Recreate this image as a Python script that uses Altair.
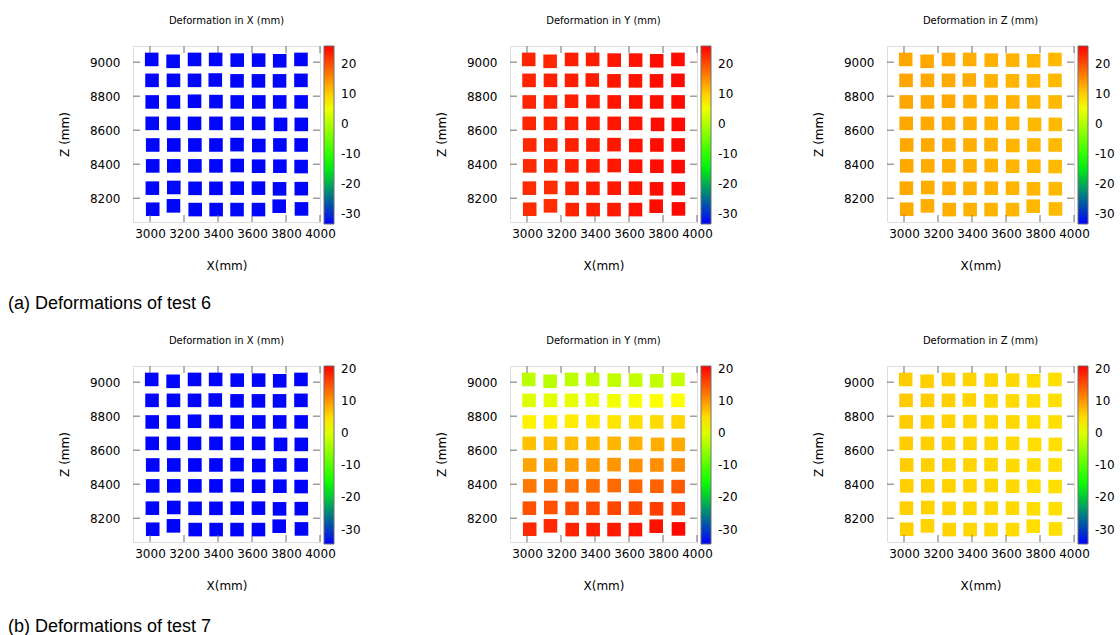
import altair as alt
import pandas as pd

# ---- labels -------------------------------------------------------------
PANEL_TITLES = ["Deformation in X (mm)", "Deformation in Y (mm)", "Deformation in Z (mm)"]
CAPTIONS = ["(a) Deformations of test 6", "(b) Deformations of test 7"]
X_TITLE = "X(mm)"
Z_TITLE = "Z (mm)"

# ---- axes ---------------------------------------------------------------
X_TICKS = [3000, 3200, 3400, 3600, 3800, 4000]
Z_TICKS = [8200, 8400, 8600, 8800, 9000]
CBAR_TICKS = [20, 10, 0, -10, -20, -30]
X_DOMAIN = [2900, 4000]
Z_DOMAIN = [8060, 9095]

# colour-bar limits for each test (min, max)
CBAR_LIMITS = [[-33.3, 26.0], [-34.5, 21.0]]
PALETTE = ["#0000ff", "#00ff00", "#ffff00", "#ff0000"]

# ---- measurement grid: target positions (8 rows top->bottom, 8 columns) --
X_MM = [
    [3010, 3136, 3262, 3386, 3513, 3639, 3763, 3888],
    [3012, 3138, 3262, 3384, 3512, 3638, 3762, 3888],
    [3013, 3138, 3262, 3388, 3513, 3640, 3763, 3889],
    [3013, 3138, 3262, 3388, 3513, 3639, 3768, 3890],
    [3016, 3140, 3264, 3388, 3512, 3640, 3764, 3889],
    [3016, 3140, 3264, 3388, 3513, 3639, 3764, 3889],
    [3014, 3140, 3265, 3388, 3513, 3638, 3762, 3890],
    [3016, 3138, 3266, 3389, 3512, 3638, 3760, 3891],
]
Z_MM = [
    [9016, 9005, 9016, 9016, 9012, 9012, 9008, 9016],
    [8893, 8893, 8893, 8895, 8890, 8890, 8890, 8893],
    [8766, 8766, 8770, 8768, 8766, 8766, 8766, 8766],
    [8640, 8640, 8640, 8640, 8640, 8640, 8634, 8634],
    [8513, 8513, 8513, 8513, 8515, 8510, 8513, 8513],
    [8390, 8390, 8390, 8390, 8392, 8388, 8388, 8386],
    [8259, 8263, 8258, 8258, 8259, 8259, 8255, 8256],
    [8135, 8155, 8133, 8133, 8133, 8133, 8153, 8137],
]

# ---- test 6 deformations (mm) -------------------------------------------
T6_DX = [
    [-32.9, -32.7, -32.8, -32.9, -32.7, -32.8, -32.9, -33.0],
    [-32.8, -32.9, -32.7, -32.8, -32.9, -32.8, -32.7, -32.9],
    [-32.9, -32.8, -32.9, -32.7, -32.8, -32.9, -32.8, -32.8],
    [-32.7, -32.8, -32.9, -32.8, -32.7, -32.8, -32.9, -32.8],
    [-32.8, -32.9, -32.8, -32.9, -32.8, -32.7, -32.8, -32.9],
    [-32.9, -32.8, -32.7, -32.8, -32.9, -32.8, -32.8, -32.7],
    [-32.8, -32.7, -32.8, -32.9, -32.8, -32.9, -32.7, -32.8],
    [-32.9, -32.8, -32.9, -32.8, -32.7, -32.8, -32.9, -32.8],
]
T6_DY = [
    [23.2, 23.0, 23.6, 23.8, 24.3, 24.6, 25.0, 25.1],
    [23.3, 23.4, 23.7, 23.9, 24.2, 24.6, 24.9, 25.2],
    [23.1, 23.4, 23.6, 24.0, 24.4, 24.7, 25.0, 25.2],
    [23.0, 23.3, 23.6, 24.0, 24.3, 24.6, 25.1, 25.3],
    [22.9, 23.2, 23.5, 23.9, 24.2, 24.6, 24.9, 25.2],
    [22.8, 23.2, 23.5, 23.8, 24.2, 24.6, 24.9, 25.3],
    [22.7, 22.6, 23.4, 23.8, 24.1, 24.5, 25.0, 25.2],
    [22.7, 22.5, 23.4, 23.7, 24.1, 24.5, 25.1, 25.4],
]
T6_DZ = [
    [13.1, 12.9, 12.9, 12.6, 12.3, 12.1, 11.8, 11.6],
    [13.2, 12.9, 12.8, 12.7, 12.2, 12.0, 11.8, 11.6],
    [13.1, 12.9, 12.9, 12.6, 12.3, 12.1, 11.9, 11.7],
    [13.0, 12.8, 12.7, 12.5, 12.2, 12.0, 11.7, 11.6],
    [12.9, 12.8, 12.6, 12.5, 12.2, 12.0, 11.8, 11.6],
    [12.9, 12.7, 12.6, 12.4, 12.2, 12.0, 11.8, 11.6],
    [12.8, 12.7, 12.5, 12.4, 12.1, 12.0, 11.8, 11.6],
    [12.8, 12.6, 12.5, 12.3, 12.1, 11.9, 11.7, 11.6],
]

# ---- test 7 deformations (mm) -------------------------------------------
T7_DX = [
    [-34.2, -34.1, -34.2, -34.3, -34.1, -34.2, -34.2, -34.3],
    [-34.1, -34.2, -34.2, -34.1, -34.3, -34.2, -34.1, -34.2],
    [-34.2, -34.3, -34.1, -34.2, -34.2, -34.1, -34.2, -34.2],
    [-34.3, -34.2, -34.2, -34.1, -34.2, -34.3, -34.2, -34.1],
    [-34.2, -34.1, -34.3, -34.2, -34.2, -34.2, -34.1, -34.2],
    [-34.1, -34.2, -34.2, -34.3, -34.1, -34.2, -34.2, -34.3],
    [-34.2, -34.2, -34.1, -34.2, -34.3, -34.2, -34.1, -34.2],
    [-34.3, -34.2, -34.2, -34.1, -34.2, -34.2, -34.3, -34.2],
]
T7_DY = [
    [-2.4, -2.6, -2.3, -2.2, -2.0, -1.9, -1.8, -1.6],
    [0.2, 0.5, 0.8, 1.0, 1.5, 1.9, 2.2, 2.4],
    [3.4, 3.7, 3.9, 4.1, 4.4, 4.8, 5.2, 5.6],
    [7.0, 7.2, 7.3, 7.6, 7.8, 8.0, 8.4, 8.7],
    [9.2, 9.4, 9.6, 9.8, 10.1, 10.4, 10.7, 11.0],
    [12.3, 12.6, 12.8, 13.0, 13.3, 13.7, 14.0, 14.5],
    [15.1, 15.2, 15.5, 15.7, 15.9, 16.1, 16.5, 16.7],
    [18.1, 18.0, 18.6, 18.8, 19.1, 19.5, 19.8, 20.4],
]
T7_DZ = [
    [6.2, 6.0, 5.9, 5.7, 5.4, 5.2, 5.0, 4.8],
    [6.3, 6.1, 5.9, 5.6, 5.4, 5.2, 5.0, 4.8],
    [6.2, 6.0, 5.8, 5.6, 5.4, 5.3, 5.0, 4.8],
    [6.1, 6.0, 5.8, 5.7, 5.5, 5.2, 5.0, 4.9],
    [6.1, 5.9, 5.8, 5.6, 5.4, 5.2, 5.0, 4.9],
    [6.0, 5.9, 5.7, 5.6, 5.4, 5.2, 5.0, 4.8],
    [6.0, 5.8, 5.7, 5.5, 5.3, 5.2, 5.0, 4.8],
    [5.9, 5.8, 5.7, 5.5, 5.3, 5.1, 4.9, 4.8],
]

TESTS = [[T6_DX, T6_DY, T6_DZ], [T7_DX, T7_DY, T7_DZ]]

# ---- styling ------------------------------------------------------------
FONT = "DejaVu Sans"
FRAME = "#6e6e6e"
W, H = 187, 176
TICK_LEN = 7
# caption blocks: (block height, text centre within block)
CAPTION_BOXES = [(52.6, 27.3), (38.5, 29.5)]


def grid_frame(values):
    rows = []
    for i in range(8):
        for j in range(8):
            rows.append({"x": X_MM[i][j], "z": Z_MM[i][j], "d": values[i][j]})
    return pd.DataFrame(rows)


def panel(values, title, limits):
    lo, hi = limits
    stops = [lo + (hi - lo) * k / 3 for k in range(4)]
    xs = alt.Scale(domain=X_DOMAIN, nice=False, zero=False)
    zs = alt.Scale(domain=Z_DOMAIN, nice=False, zero=False)
    x_axis = alt.Axis(values=X_TICKS, title=X_TITLE, grid=False, domain=False,
                      ticks=False, tickSize=0, labelPadding=6, labelFlush=False,
                      labelOverlap=False, labelFont=FONT, labelFontSize=12,
                      labelColor="#000", titleFont=FONT, titleFontSize=12,
                      titleFontWeight="normal", titleColor="#000", titlePadding=21,
                      format="d")
    z_axis = alt.Axis(values=Z_TICKS, title=Z_TITLE, grid=False, domain=False,
                      ticks=False, tickSize=0, labelPadding=13, labelFlush=False,
                      labelOverlap=False, labelFont=FONT, labelFontSize=12,
                      labelColor="#000", titleFont=FONT, titleFontSize=12,
                      titleFontWeight="normal", titleColor="#000", titlePadding=18,
                      format="d")
    legend = alt.Legend(title=None, values=CBAR_TICKS, orient="right", direction="vertical",
                        gradientLength=178, gradientThickness=10, offset=4, padding=0,
                        labelOffset=7, labelFont=FONT, labelFontSize=12, labelColor="#000",
                        labelOverlap=False, labelExpr="'' + datum.value",
                        gradientStrokeColor=FRAME, gradientStrokeWidth=1)

    xenc = alt.X("x:Q", scale=xs, axis=x_axis)
    zenc = alt.Y("z:Q", scale=zs, axis=z_axis)

    pts = alt.Chart(grid_frame(values)).mark_square(size=185, opacity=1).encode(
        x=xenc,
        y=zenc,
        color=alt.Color("d:Q", scale=alt.Scale(domain=stops, range=PALETTE, interpolate="rgb"),
                        legend=legend),
    )

    # inward tick marks on all four sides of the frame
    xt = pd.DataFrame({"x": X_TICKS})
    zt = pd.DataFrame({"z": Z_TICKS})
    bottom = alt.Chart(xt).mark_rule(color=FRAME).encode(
        x=xenc, y=alt.value(H), y2=alt.value(H - TICK_LEN))
    top = alt.Chart(xt).mark_rule(color=FRAME).encode(
        x=xenc, y=alt.value(0), y2=alt.value(TICK_LEN))
    left = alt.Chart(zt).mark_rule(color=FRAME).encode(
        y=zenc, x=alt.value(0), x2=alt.value(TICK_LEN))
    right = alt.Chart(zt).mark_rule(color=FRAME).encode(
        y=zenc, x=alt.value(W - TICK_LEN), x2=alt.value(W))

    return alt.layer(pts, bottom, top, left, right).properties(
        width=W, height=H,
        title=alt.Title(title, font=FONT, fontSize=10, fontWeight="normal",
                        color="#000", offset=20, anchor="middle"),
    )


def caption(text, box):
    h, c = box
    return alt.Chart(pd.DataFrame({"t": [text]})).mark_text(
        align="left", baseline="middle", font="Liberation Sans", fontSize=18, color="#000"
    ).encode(
        text="t:N", x=alt.value(-125), y=alt.value(c)
    ).properties(width=10, height=h, view=alt.ViewBackground(strokeOpacity=0))


rows = []
for t, (vals, limits) in enumerate(zip(TESTS, CBAR_LIMITS)):
    row = alt.hconcat(
        *[panel(v, PANEL_TITLES[k], limits) for k, v in enumerate(vals)],
        spacing=190, bounds="flush",
    ).resolve_scale(color="independent", x="independent", y="independent"
    ).resolve_legend(color="independent")
    rows.append(row)
    rows.append(caption(CAPTIONS[t], CAPTION_BOXES[t]))

chart = alt.vconcat(*rows, spacing=5).properties(
    padding={"left": 8, "top": 15, "right": 0, "bottom": 0}
).configure_view(stroke=FRAME, strokeWidth=1).configure(background="white")

chart.save("out.html", embed_options={"renderer": "svg", "actions": False})
